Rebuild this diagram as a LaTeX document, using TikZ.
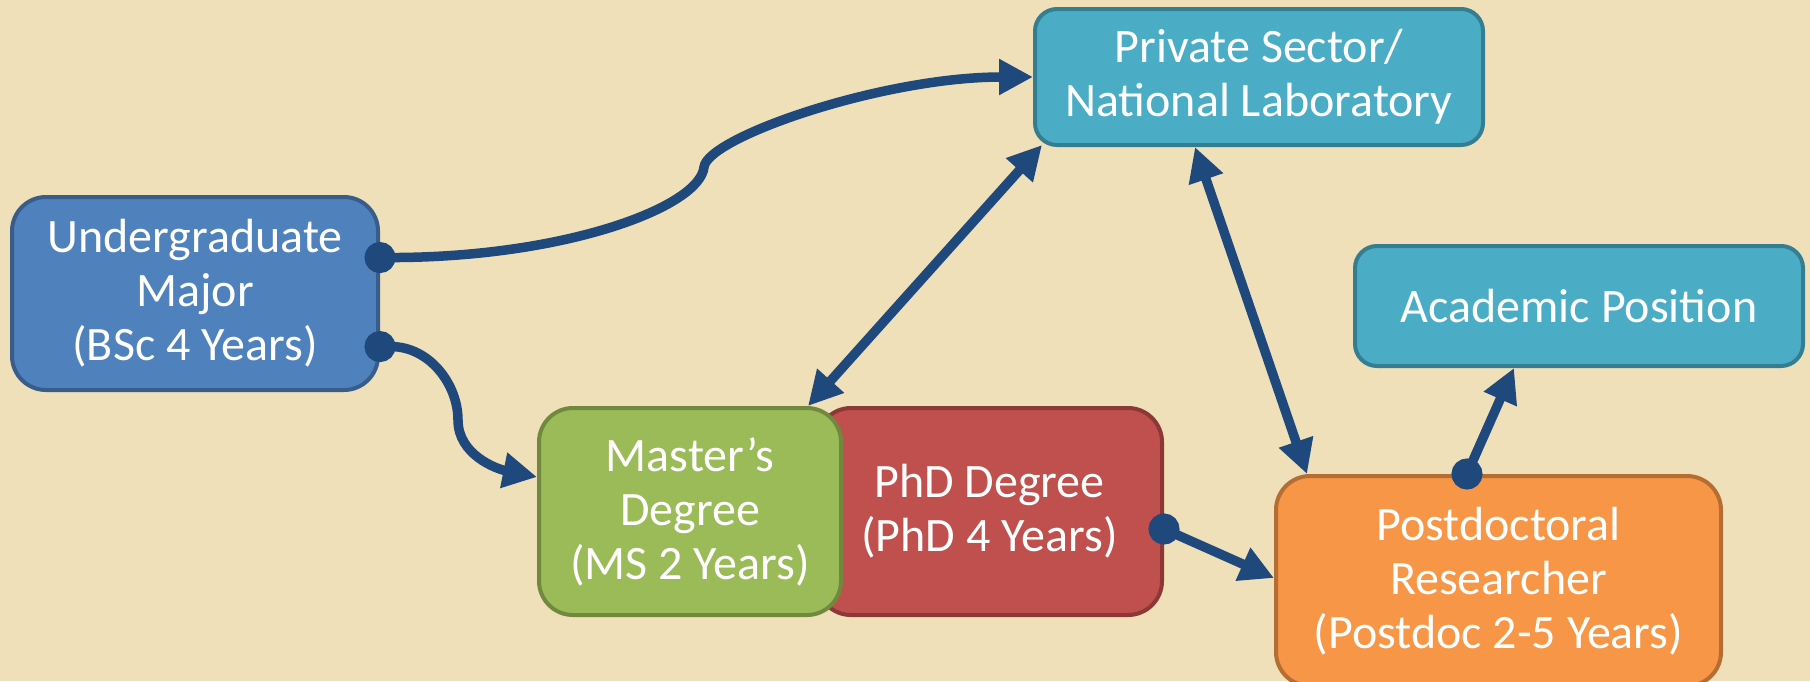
\documentclass[tikz,border=0pt]{standalone}
\usepackage{fontspec}
\setmainfont{Carlito}
\usepackage{tikz}
\usetikzlibrary{calc,positioning,arrows.meta}
\definecolor{paper}{RGB}{239,224,186}
\definecolor{arrowblue}{HTML}{1F497D}
\definecolor{ugfill}{HTML}{4F81BD}
\definecolor{ugdraw}{HTML}{385D8A}
\definecolor{aquafill}{HTML}{4BACC6}
\definecolor{aquadraw}{HTML}{357D91}
\definecolor{msfill}{HTML}{9BBB59}
\definecolor{msdraw}{HTML}{71893F}
\definecolor{phdfill}{HTML}{C0504D}
\definecolor{phddraw}{HTML}{8C3836}
\definecolor{pdfill}{HTML}{F79646}
\definecolor{pddraw}{HTML}{B66D31}
\tikzstyle{box} = [rectangle, rounded corners=17pt, line width=2pt, text=white, align=center, inner sep=0pt, font=\fontsize{24}{27}\selectfont]
\tikzstyle{jobbox} = [box, rounded corners=11pt, fill=aquafill, draw=aquadraw]
\tikzstyle{arrow} = [-{Triangle[length=17pt,width=17pt]}, line width=4.75pt, draw=arrowblue]
\tikzstyle{dotarrow} = [{Circle[length=15.5pt]}-{Triangle[length=17pt,width=17pt]}, shorten <=-7.75pt, line width=4.75pt, draw=arrowblue]
\tikzstyle{twoway} = [{Triangle[length=17pt,width=17pt]}-{Triangle[length=17pt,width=17pt]}, line width=4.75pt, draw=arrowblue]

\begin{document}
\begin{tikzpicture}[x=0.5pt, y=0.5pt]
      \useasboundingbox (0,0) rectangle (1810,-681);
      \fill[paper] (0,0) rectangle (1810,-681);
      %boxes
      \node[box, fill=ugfill, draw=ugdraw, minimum width=183pt, minimum height=96.5pt](ugrad) at (195,-293.5){Undergraduate\\Major\\(BSc 4 Years)};
      \node[jobbox, minimum width=224pt, minimum height=68pt](private) at (1259,-77){Private Sector/\\National Laboratory};
      \node[jobbox, minimum width=224pt, minimum height=60pt](academic) at (1579,-306){Academic Position};
      \node[box, fill=phdfill, draw=phddraw, minimum width=172.5pt, minimum height=103.5pt](phd) at (989.5,-511.5){PhD Degree\\(PhD 4 Years)};
      \node[box, fill=msfill, draw=msdraw, minimum width=151pt, minimum height=103.5pt](master) at (690,-511.5){Master’s\\Degree\\(MS 2 Years)};
      \node[box, fill=pdfill, draw=pddraw, minimum width=222.5pt, minimum height=105pt](postdoc) at (1498.5,-581){Postdoctoral\\Researcher\\(Postdoc 2-5 Years)};
      %bends of the curved links
      \coordinate (bendtop) at (704,-167);
      \coordinate (bendlow) at (458,-420);
      %links
      \draw[dotarrow] (ugrad.11.6) .. controls +(185,0) and +(-4,-40) .. (bendtop) .. controls +(4,30) and +(-150,0) .. (private.west);
      \draw[dotarrow] (ugrad.-16.6) .. controls +(50,0) and +(0,35) .. (bendlow) .. controls +(0,-35) and +(-40,8) .. ($(master.west)+(0,34.5)$);
      \draw[twoway] ($(master.north)+(118,0)$) -- ($(private.south west)+(9,2)$);
      \draw[twoway] ($(private.south)+(-64,0)$) -- ($(postdoc.north)+(-191.5,0)$);
      \draw[dotarrow] ($(phd.east)+(0,-17.5)$) -- ($(postdoc.west)+(0,3)$);
      \draw[dotarrow] ($(postdoc.north)+(-31.5,0)$) -- ($(academic.south)+(-65,0)$);
\end{tikzpicture}
\end{document}
